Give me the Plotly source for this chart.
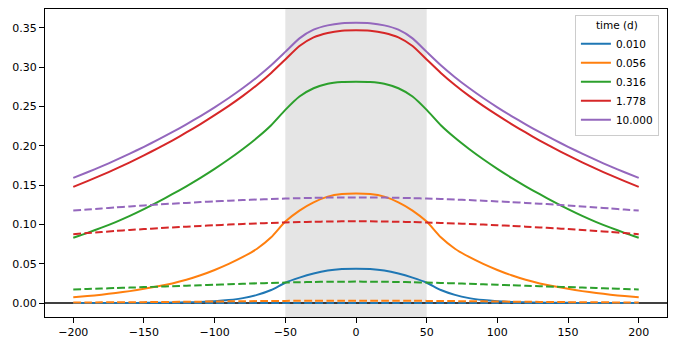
import plotly.graph_objects as go

# ---- data ----
x_pos = [-200, -190, -180, -170, -160, -150, -140, -130, -120, -110, -100, -90, -80, -70, -60, -50, -40, -30, -20, -10, 0,
         10, 20, 30, 40, 50, 60, 70, 80, 90, 100, 110, 120, 130, 140, 150, 160, 170, 180, 190, 200]
time_labels = ["0.010", "0.056", "0.316", "1.778", "10.000"]
colors = ["#1f77b4", "#ff7f0e", "#2ca02c", "#d62728", "#9467bd"]

solid_t0010 = [0.0, 0.0, 0.0, 0.0001, 0.0001, 0.0002, 0.0003, 0.0005, 0.0008, 0.0013, 0.0022, 0.0037, 0.0062, 0.0103, 0.0165, 0.0258, 0.0322, 0.0375, 0.0413, 0.0432, 0.0437,
               0.0432, 0.0413, 0.0375, 0.0322, 0.0258, 0.0165, 0.0103, 0.0062, 0.0037, 0.0022, 0.0013, 0.0008, 0.0005, 0.0003, 0.0002, 0.0001, 0.0001, 0.0, 0.0, 0.0]
solid_t0056 = [0.0072, 0.0088, 0.0106, 0.0127, 0.0151, 0.0180, 0.0212, 0.0249, 0.0295, 0.0352, 0.0420, 0.0497, 0.0585, 0.0690, 0.0835, 0.1035, 0.1175, 0.1280, 0.1352, 0.1385, 0.1392,
               0.1385, 0.1352, 0.1280, 0.1175, 0.1035, 0.0835, 0.0690, 0.0585, 0.0497, 0.0420, 0.0352, 0.0295, 0.0249, 0.0212, 0.0180, 0.0151, 0.0127, 0.0106, 0.0088, 0.0072]
solid_t0316 = [0.0830, 0.0892, 0.0958, 0.1029, 0.1108, 0.1194, 0.1286, 0.1383, 0.1484, 0.1591, 0.1705, 0.1827, 0.1958, 0.2100, 0.2260, 0.2455, 0.2625, 0.2730, 0.2788, 0.2810, 0.2813,
               0.2810, 0.2788, 0.2730, 0.2625, 0.2455, 0.2260, 0.2100, 0.1958, 0.1827, 0.1705, 0.1591, 0.1484, 0.1383, 0.1286, 0.1194, 0.1108, 0.1029, 0.0958, 0.0892, 0.0830]
solid_t1778 = [0.1476, 0.1549, 0.1625, 0.1705, 0.1789, 0.1877, 0.1969, 0.2066, 0.2168, 0.2275, 0.2388, 0.2506, 0.2633, 0.2772, 0.2925, 0.3096, 0.3268, 0.3378, 0.3434, 0.3462, 0.3468,
               0.3462, 0.3434, 0.3378, 0.3268, 0.3096, 0.2925, 0.2772, 0.2633, 0.2506, 0.2388, 0.2275, 0.2168, 0.2066, 0.1969, 0.1877, 0.1789, 0.1705, 0.1625, 0.1549, 0.1476]
solid_t10000 = [0.1590, 0.1662, 0.1737, 0.1816, 0.1899, 0.1986, 0.2077, 0.2172, 0.2272, 0.2377, 0.2488, 0.2606, 0.2733, 0.2871, 0.3023, 0.3193, 0.3365, 0.3475, 0.3530, 0.3557, 0.3563,
                0.3557, 0.3530, 0.3475, 0.3365, 0.3193, 0.3023, 0.2871, 0.2733, 0.2606, 0.2488, 0.2377, 0.2272, 0.2172, 0.2077, 0.1986, 0.1899, 0.1816, 0.1737, 0.1662, 0.1590]

dash_t0010 = [0.0, 0.0, 0.0, 0.0, 0.0, 0.0, 0.0, 0.0, 0.0, 0.0, 0.0, 0.0, 0.0, 0.0001, 0.0001, 0.0001, 0.0001, 0.0001, 0.0001, 0.0001, 0.0001,
              0.0001, 0.0001, 0.0001, 0.0001, 0.0001, 0.0001, 0.0001, 0.0, 0.0, 0.0, 0.0, 0.0, 0.0, 0.0, 0.0, 0.0, 0.0, 0.0, 0.0, 0.0]
dash_t0056 = [0.0006, 0.0007, 0.0008, 0.0009, 0.0010, 0.0011, 0.0013, 0.0014, 0.0016, 0.0017, 0.0019, 0.0021, 0.0022, 0.0024, 0.0025, 0.0027, 0.0028, 0.0029, 0.0030, 0.0030, 0.0030,
              0.0030, 0.0030, 0.0029, 0.0028, 0.0027, 0.0025, 0.0024, 0.0022, 0.0021, 0.0019, 0.0017, 0.0016, 0.0014, 0.0013, 0.0011, 0.0010, 0.0009, 0.0008, 0.0007, 0.0006]
dash_t0316 = [0.0172, 0.0178, 0.0184, 0.0190, 0.0196, 0.0202, 0.0208, 0.0214, 0.0220, 0.0226, 0.0232, 0.0238, 0.0244, 0.0250, 0.0255, 0.0260, 0.0264, 0.0267, 0.0270, 0.0271, 0.0272,
              0.0271, 0.0270, 0.0267, 0.0264, 0.0260, 0.0255, 0.0250, 0.0244, 0.0238, 0.0232, 0.0226, 0.0220, 0.0214, 0.0208, 0.0202, 0.0196, 0.0190, 0.0184, 0.0178, 0.0172]
dash_t1778 = [0.0875, 0.0889, 0.0903, 0.0916, 0.0928, 0.0940, 0.0951, 0.0961, 0.0971, 0.0980, 0.0989, 0.0997, 0.1005, 0.1012, 0.1018, 0.1024, 0.1029, 0.1033, 0.1036, 0.1038, 0.1039,
              0.1038, 0.1036, 0.1033, 0.1029, 0.1024, 0.1018, 0.1012, 0.1005, 0.0997, 0.0989, 0.0980, 0.0971, 0.0961, 0.0951, 0.0940, 0.0928, 0.0916, 0.0903, 0.0889, 0.0875]
dash_t10000 = [0.1175, 0.1188, 0.1202, 0.1215, 0.1228, 0.1240, 0.1252, 0.1263, 0.1273, 0.1283, 0.1292, 0.1300, 0.1308, 0.1315, 0.1322, 0.1328, 0.1333, 0.1337, 0.1340, 0.1342, 0.1342,
               0.1342, 0.1340, 0.1337, 0.1333, 0.1328, 0.1322, 0.1315, 0.1308, 0.1300, 0.1292, 0.1283, 0.1273, 0.1263, 0.1252, 0.1240, 0.1228, 0.1215, 0.1202, 0.1188, 0.1175]

x_ticks = [-200, -150, -100, -50, 0, 50, 100, 150, 200]
y_ticks = [0.0, 0.05, 0.10, 0.15, 0.20, 0.25, 0.30, 0.35]
band = [-50, 50]

solid = [solid_t0010, solid_t0056, solid_t0316, solid_t1778, solid_t10000]
dashed = [dash_t0010, dash_t0056, dash_t0316, dash_t1778, dash_t10000]

FONT = "DejaVu Sans"
fig = go.Figure()
for lab, col, ys, yd in zip(time_labels, colors, solid, dashed):
    fig.add_trace(go.Scatter(x=x_pos, y=ys, mode="lines", name=lab,
                             line=dict(color=col, width=2, shape="spline", smoothing=0.6)))
    fig.add_trace(go.Scatter(x=x_pos, y=yd, mode="lines", showlegend=False,
                             line=dict(color=col, width=2, dash="7.7px,3.3px", shape="spline", smoothing=0.6)))

fig.add_shape(type="rect", xref="x", yref="paper", x0=band[0], x1=band[1], y0=0, y1=1,
              fillcolor="#e5e5e5", line=dict(width=0), layer="below")
fig.add_shape(type="line", xref="paper", yref="y", x0=0, x1=1, y0=0, y1=0,
              line=dict(color="black", width=1.3), layer="below")

axis_common = dict(showline=True, linecolor="black", linewidth=1.1, mirror=True,
                   ticks="outside", ticklen=4.9, tickwidth=1.1, tickcolor="black",
                   showgrid=False, zeroline=False,
                   tickfont=dict(family=FONT, size=11, color="black"))
fig.update_xaxes(range=[-220, 220], tickvals=x_ticks, **axis_common)
fig.update_yaxes(range=[-0.0178, 0.3738], tickvals=y_ticks, tickformat=".2f", **axis_common)

fig.update_layout(
    width=674, height=348,
    margin=dict(l=45, r=7, t=9, b=31),
    plot_bgcolor="white", paper_bgcolor="white",
    font=dict(family=FONT, size=11, color="black"),
    showlegend=True,
    legend=dict(title=dict(text="time (d)", side="top center", font=dict(size=10.5)),
                x=0.987, y=0.982, xanchor="right", yanchor="top",
                bgcolor="rgba(255,255,255,0.8)", bordercolor="#cccccc", borderwidth=1,
                font=dict(size=10.5), itemwidth=30, tracegroupgap=0),
)
fig.write_html("out.html")
